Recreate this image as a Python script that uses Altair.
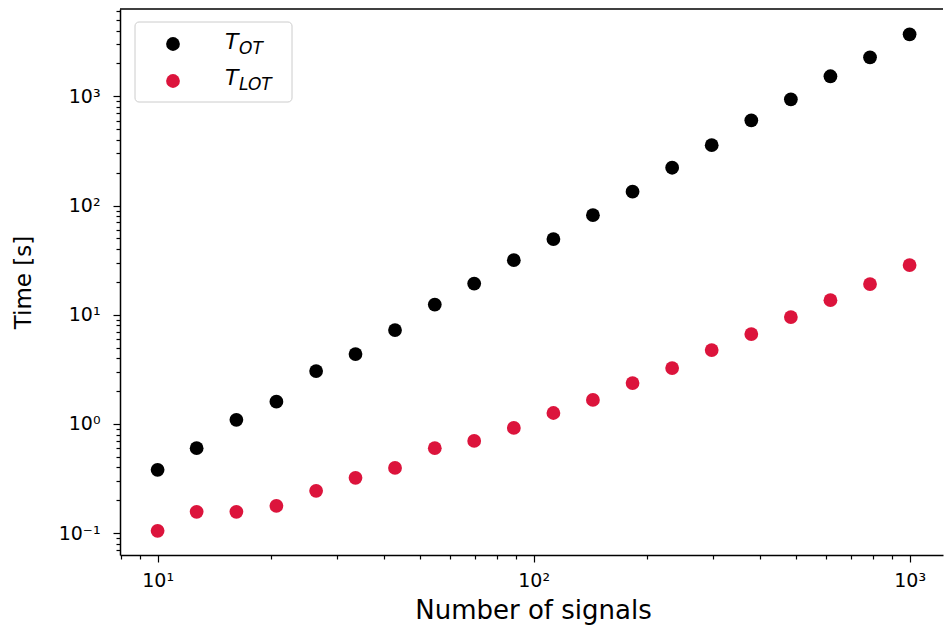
import altair as alt
import pandas as pd

# ---- data ----
n_signals = [10, 12.7, 16.2, 20.7, 26.4, 33.6, 42.8, 54.6, 69.5, 88.6,
             112.9, 143.8, 183.3, 233.6, 297.6, 379.3, 483.3, 615.8, 784.8, 1000]
t_ot = [0.38, 0.60, 1.09, 1.60, 3.05, 4.37, 7.24, 12.4, 19.3, 31.6,
        49.3, 81.7, 134, 222, 357, 604, 940, 1528, 2280, 3700]
t_lot = [0.105, 0.157, 0.157, 0.178, 0.244, 0.321, 0.396, 0.60, 0.70, 0.92,
         1.26, 1.66, 2.37, 3.25, 4.75, 6.66, 9.53, 13.6, 19.1, 28.5]

series_names = ["T_OT", "T_LOT"]
series_colors = ["#000000", "#dc143c"]
legend_main = ["T", "T"]
legend_sub = ["OT", "LOT"]

x_ticks = [8, 9, 10, 20, 30, 40, 50, 60, 70, 80, 90, 100,
           200, 300, 400, 500, 600, 700, 800, 900, 1000]
y_ticks = [0.07, 0.08, 0.09, 0.1, 0.2, 0.3, 0.4, 0.5, 0.6, 0.7, 0.8, 0.9, 1,
           2, 3, 4, 5, 6, 7, 8, 9, 10, 20, 30, 40, 50, 60, 70, 80, 90, 100,
           200, 300, 400, 500, 600, 700, 800, 900, 1000,
           2000, 3000, 4000, 5000, 6000]

x_title = "Number of signals"
y_title = "Time [s]"

# ---- layout ----
W, H = 823, 546
PAD = {"left": 120, "top": 9, "right": 1, "bottom": 71}
x_domain = [10 ** 0.9, 10 ** (0.9 + W / 376.0)]
y_domain = [10 ** -1.2, 10 ** (-1.2 + H / 109.2)]

df = pd.DataFrame({
    "n": n_signals * 2,
    "time": t_ot + t_lot,
    "series": [series_names[0]] * len(n_signals) + [series_names[1]] * len(n_signals),
})

is_major = "abs(log(datum.value)/LN10 - round(log(datum.value)/LN10)) < 0.001"
sup = ("replace(replace(replace(replace(replace(toString(round(log(datum.value)/LN10)),"
       "'-','⁻'),'0','⁰'),'1','¹'),'2','²'),'3','³')")
label_expr = f"({is_major}) ? '10' + {sup} : ''"
tick_size = {"condition": {"test": is_major, "value": 7}, "value": 4}

FONT = "DejaVu Sans"

x_axis = alt.Axis(values=x_ticks, labelExpr=label_expr, tickSize=tick_size,
                  tickColor="black", tickWidth=1.2, domainColor="black", domainWidth=1.5,
                  labelFont=FONT, labelFontSize=19, labelColor="black", labelPadding=9,
                  labelOverlap=False, labelFlush=False, grid=False,
                  title=x_title, titleFont=FONT, titleFontSize=26, titleFontWeight="normal",
                  titleColor="black", titleX=413, titleY=63, titleBaseline="alphabetic",
                  titleAlign="center")
y_axis = alt.Axis(values=y_ticks, labelExpr=label_expr, tickSize=tick_size,
                  tickColor="black", tickWidth=1.2, domainColor="black", domainWidth=1.5,
                  labelFont=FONT, labelFontSize=19, labelColor="black", labelPadding=13,
                  labelOverlap=False, labelFlush=False, grid=False,
                  title=y_title, titleFont=FONT, titleFontSize=23, titleFontWeight="normal",
                  titleColor="black", titleX=-97, titleY=273, titleAngle=270,
                  titleBaseline="middle", titleAlign="center")

points = alt.Chart(df).mark_circle(size=190, opacity=1).encode(
    x=alt.X("n:Q", scale=alt.Scale(type="log", domain=x_domain, nice=False), axis=x_axis),
    y=alt.Y("time:Q", scale=alt.Scale(type="log", domain=y_domain, nice=False), axis=y_axis),
    color=alt.Color("series:N", scale=alt.Scale(domain=series_names, range=series_colors),
                    legend=None),
)

one = pd.DataFrame({"k": [0]})

top_spine = alt.Chart(one).mark_rule(color="black", strokeWidth=1.5).encode(
    x=alt.value(0), x2=alt.value(W), y=alt.value(0))

legend_box = alt.Chart(one).mark_rect(fill="white", stroke="#cccccc", strokeWidth=1,
                                      cornerRadius=4).encode(
    x=alt.value(15), x2=alt.value(172), y=alt.value(13), y2=alt.value(93))

layers = [points, top_spine, legend_box]
marker_y = [35, 72]
main_base = [40, 76]
sub_base = [44.5, 81]
for i in range(2):
    layers.append(alt.Chart(one).mark_circle(size=190, opacity=1).encode(
        x=alt.value(53), y=alt.value(marker_y[i]), color=alt.value(series_colors[i])))
    layers.append(alt.Chart(one).mark_text(
        text=legend_main[i], font=FONT, fontStyle="italic", fontSize=22,
        align="left", baseline="alphabetic", color="black").encode(
        x=alt.value(105), y=alt.value(main_base[i])))
    layers.append(alt.Chart(one).mark_text(
        text=legend_sub[i], font=FONT, fontStyle="italic", fontSize=17,
        align="left", baseline="alphabetic", color="black").encode(
        x=alt.value(119), y=alt.value(sub_base[i])))

chart = alt.layer(*layers).properties(
    width=W, height=H, padding=PAD,
    autosize=alt.AutoSizeParams(type="none"),
    background="white",
).configure_view(stroke=None)

chart.save("out.html", embed_options={"renderer": "svg", "actions": False})
